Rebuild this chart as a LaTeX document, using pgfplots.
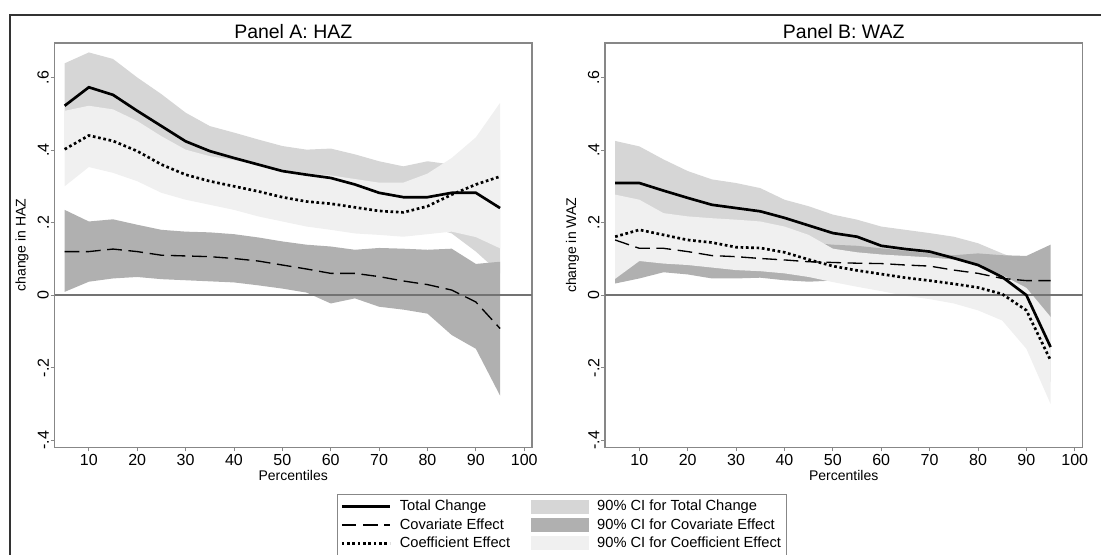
\documentclass[border=0pt]{standalone}
\usepackage{fontspec}
\setmainfont{Liberation Sans}
\usepackage{pgfplots}
\pgfplotsset{compat=1.18}
\usepackage{pgfplotstable}
\usepgfplotslibrary{fillbetween}

\definecolor{ciTot}{RGB}{214,214,214}
\definecolor{ciCov}{RGB}{176,176,176}
\definecolor{ciCoe}{RGB}{240,240,240}
\definecolor{zeroc}{RGB}{115,115,115}
\definecolor{framec}{RGB}{135,135,135}

\pgfplotstableread{
x  tot    totlo  tothi  cov     covlo   covhi  coe    coelo  coehi
5  0.522  0.40   0.639  0.120   0.009   0.235  0.402  0.300  0.508
10 0.573  0.46   0.669  0.120   0.037   0.203  0.440  0.353  0.522
15 0.552  0.45   0.651  0.127   0.046   0.209  0.425  0.337  0.512
20 0.508  0.42   0.600  0.120   0.050   0.194  0.397  0.314  0.480
25 0.466  0.38   0.554  0.110   0.044   0.180  0.360  0.282  0.438
30 0.424  0.34   0.503  0.108   0.041   0.175  0.332  0.263  0.401
35 0.397  0.32   0.466  0.106   0.038   0.173  0.314  0.249  0.383
40 0.378  0.30   0.448  0.101   0.035   0.168  0.300  0.235  0.372
45 0.360  0.29   0.429  0.094   0.027   0.159  0.286  0.217  0.360
50 0.342  0.27   0.411  0.083   0.018   0.148  0.270  0.203  0.345
55 0.332  0.26   0.401  0.072   0.007   0.139  0.258  0.189  0.335
60 0.323  0.25   0.404  0.060  -0.023   0.134  0.252  0.180  0.330
65 0.305  0.23   0.388  0.060  -0.009   0.125  0.242  0.170  0.320
70 0.282  0.21   0.369  0.051  -0.032   0.130  0.232  0.166  0.310
75 0.270  0.20   0.355  0.039  -0.040   0.128  0.228  0.161  0.310
80 0.270  0.19   0.369  0.029  -0.051   0.125  0.245  0.168  0.335
85 0.282  0.17   0.360  0.014  -0.110   0.128  0.277  0.175  0.378
90 0.282  0.12   0.380 -0.019  -0.148   0.086  0.305  0.160  0.435
95 0.240  0.06   0.400 -0.092  -0.277   0.092  0.327  0.129  0.530
}\dataA

\pgfplotstableread{
x  tot    totlo  tothi  cov    covlo   covhi  coe     coelo   coehi
5  0.309  0.19   0.425  0.152  0.032   0.270  0.161   0.045   0.277
10 0.309  0.20   0.410  0.129  0.046   0.210  0.180   0.094   0.263
15 0.288  0.20   0.374  0.129  0.063   0.195  0.166   0.087   0.226
20 0.268  0.19   0.342  0.120  0.057   0.183  0.152   0.083   0.217
25 0.249  0.18   0.319  0.109  0.046   0.172  0.145   0.076   0.212
30 0.240  0.17   0.309  0.106  0.046   0.166  0.132   0.069   0.208
35 0.231  0.165  0.295  0.101  0.048   0.155  0.130   0.066   0.203
40 0.213  0.16   0.263  0.097  0.041   0.153  0.118   0.060   0.189
45 0.192  0.14   0.245  0.092  0.037   0.145  0.098   0.050   0.166
50 0.171  0.12   0.222  0.090  0.040   0.139  0.080   0.036   0.128
55 0.161  0.11   0.208  0.088  0.035   0.136  0.068   0.023   0.118
60 0.136  0.09   0.189  0.087  0.035   0.129  0.058   0.011   0.112
65 0.127  0.08   0.180  0.083  0.035   0.122  0.048  -0.002   0.108
70 0.120  0.07   0.171  0.080  0.030   0.115  0.040  -0.011   0.104
75 0.102  0.05   0.161  0.069  0.020   0.110  0.031  -0.023   0.098
80 0.083  0.03   0.143  0.060  0.000   0.115  0.021  -0.042   0.082
85 0.050 -0.01   0.115  0.046 -0.020   0.110  0.003  -0.070   0.055
90 0.000 -0.09   0.090  0.040 -0.040   0.108 -0.042  -0.148   0.020
95 -0.143 -0.24 -0.050  0.040 -0.060   0.139 -0.180  -0.300  -0.060
}\dataB

\pgfplotsset{
  panel/.style={
    scale only axis, width=358.125pt, height=303.375pt,
    xmin=2.9, xmax=101.6, ymin=-0.42, ymax=0.695,
    xtick={10,20,30,40,50,60,70,80,90,100},
    xticklabels={10,20,30,40,50,60,70,80,90,100},
    ytick={-0.4,-0.2,0,0.2,0.4,0.6},
    yticklabels={-.4,-.2,0,.2,.4,.6},
    tick pos=left, tick align=outside, major tick length=3pt,
    every tick/.style={framec, line width=0.6pt},
    axis line style={framec, line width=0.8pt},
    /pgf/number format/assume math mode=true,
    xticklabel style={font=\fontsize{12}{14}\selectfont, yshift=1.5pt},
    yticklabel style={font=\fontsize{12}{14}\selectfont, rotate=90, anchor=south, inner sep=1pt},
    xlabel={Percentiles},
    xlabel style={font=\fontsize{10.5}{12}\selectfont, yshift=3pt},
    ylabel style={font=\fontsize{10.5}{12}\selectfont, at={(axis description cs:-0.068,0.5)}, anchor=center},
    title style={font=\fontsize{14.6}{16}\selectfont, yshift=-6pt},
    legend image code/.code={\draw[#1] (0pt,0pt) -- (36pt,0pt);},
  },
}

\newcommand{\panelplots}[1]{%
  \addplot[zeroc, line width=1.1pt] coordinates {(2.9,0) (101.6,0)};
  \addplot[draw=none, name path=th] table[x=x,y=tothi]{#1};
  \addplot[draw=none, name path=tl] table[x=x,y=totlo]{#1};
  \addplot[ciTot, draw=none] fill between[of=th and tl];
  \addplot[draw=none, name path=vh] table[x=x,y=covhi]{#1};
  \addplot[draw=none, name path=vl] table[x=x,y=covlo]{#1};
  \addplot[ciCov, draw=none] fill between[of=vh and vl];
  \addplot[draw=none, name path=ch] table[x=x,y=coehi]{#1};
  \addplot[draw=none, name path=cl] table[x=x,y=coelo]{#1};
  \addplot[ciCoe, draw=none] fill between[of=ch and cl];
  \addplot[black, line width=2pt] table[x=x,y=tot]{#1};
  \addplot[black, line width=1pt, dash pattern=on 11pt off 5pt] table[x=x,y=cov]{#1};
  \addplot[black, line width=2pt, dash pattern=on 2pt off 2pt] table[x=x,y=coe]{#1};
}

\begin{document}
\begin{tikzpicture}
\begin{axis}[panel, at={(40.875pt,80.625pt)}, anchor=south west,
  title={Panel A: HAZ}, ylabel={change in HAZ},
  legend columns=2, legend cell align=left,
  legend style={at={(axis description cs:0.591,-0.1149)}, anchor=north west,
    draw=framec, line width=0.6pt, fill=white,
    inner xsep=2.5pt, inner ysep=2.3pt,
    font=\fontsize{11}{13}\selectfont,
    nodes={inner sep=1.5pt, text height=8.55pt, text depth=2.2pt},
    /tikz/every odd column/.append style={column sep=5pt},
    /tikz/every even column/.append style={column sep=14pt}}]
  \addlegendimage{black, line width=2pt}
  \addlegendimage{legend image code/.code={\fill[ciTot] (0pt,-4.9pt) rectangle (42.75pt,4.9pt);}}
  \addlegendimage{black, line width=1pt, dash pattern=on 11pt off 5pt}
  \addlegendimage{legend image code/.code={\fill[ciCov] (0pt,-4.9pt) rectangle (42.75pt,4.9pt);}}
  \addlegendimage{black, line width=2pt, dash pattern=on 2pt off 2pt}
  \addlegendimage{legend image code/.code={\fill[ciCoe] (0pt,-4.9pt) rectangle (42.75pt,4.9pt);}}
  \panelplots{\dataA}
  \legend{Total Change, 90\% CI for Total Change, Covariate Effect, 90\% CI for Covariate Effect, Coefficient Effect, 90\% CI for Coefficient Effect}
\end{axis}

\begin{axis}[panel, at={(453.75pt,80.625pt)}, anchor=south west,
  title={Panel B: WAZ}, ylabel={change in WAZ}]
  \panelplots{\dataB}
\end{axis}
\draw[black!80, line width=1.1pt] (7.5pt,0pt) -- (7.5pt,405pt) -- (825.75pt,405pt);
\pgfresetboundingbox
\path[use as bounding box] (0,0) rectangle (825.75pt,416.25pt);
\end{tikzpicture}
\end{document}
